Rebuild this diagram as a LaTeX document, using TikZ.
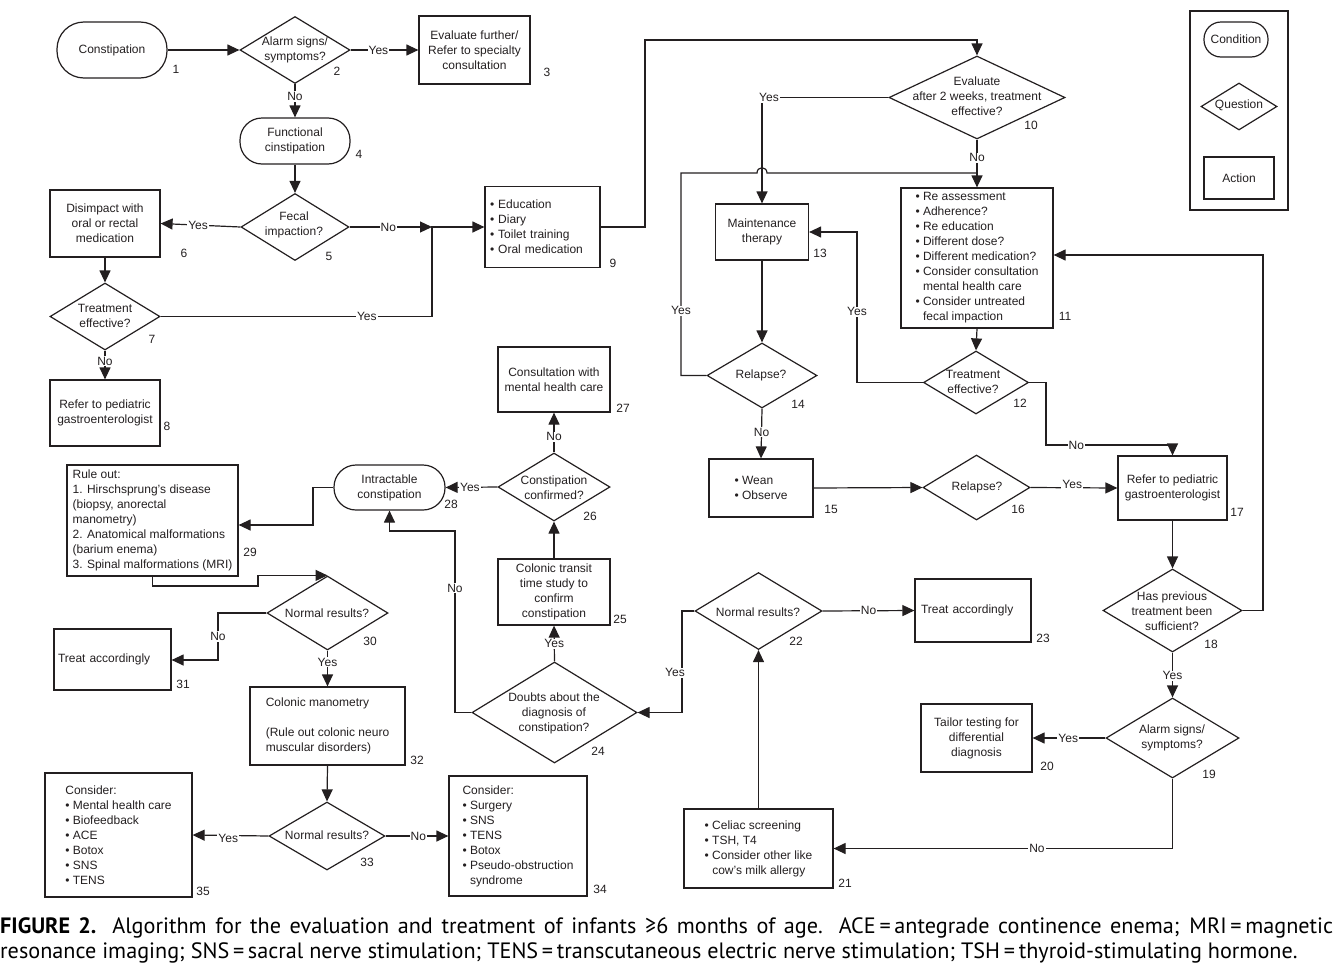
\documentclass[tikz,border=0pt]{standalone}
\usepackage{fontspec}
\setmainfont{Liberation Sans}
\newfontfamily\capfont{PT Sans}
\usetikzlibrary{arrows.meta,shapes.geometric}
\definecolor{ink}{HTML}{231F20}
\newcommand\dfont{\fontsize{12}{15}\selectfont}
\newcommand\capsize{\fontsize{22.2}{26}\selectfont}
\tikzset{
  ln/.style={draw=ink, line width=1.2pt},
  arr/.style={ln, -{Triangle[length=12pt,width=11pt]}},
  box/.style={draw=ink, line width=1.2pt, rectangle, inner sep=0pt, font=\dfont, text=ink, align=center},
  cond/.style={box, rounded corners=#1},
  qd/.style={draw=ink, line width=1.2pt, diamond, inner sep=0pt},
  qt/.style={font=\dfont, text=ink, align=center, inner sep=0pt},
  lbl/.style={fill=white, inner sep=1pt, font=\dfont, text=ink},
  num/.style={font=\dfont, text=ink, inner sep=0pt},
}
\begin{document}
\begin{tikzpicture}[x=1pt,y=-1pt]
\useasboundingbox (0,0) rectangle (1339,964);

% ---------- nodes ----------
\node[cond=27pt, minimum width=110pt, minimum height=56pt] (c1) at (112,50) {Constipation};
\node[qd, minimum width=110pt, minimum height=67pt] (q2) at (295,50) {};
\node[qt] (q2t) at (295,50) {Alarm signs/\\symptoms?};
\node[box, minimum width=111pt, minimum height=68pt] (r3) at (474.5,50) {Evaluate further/\\Refer to specialty\\consultation};
\node[cond=22pt, minimum width=110pt, minimum height=46pt] (c4) at (295,141) {Functional\\cinstipation};
\node[qd, minimum width=108pt, minimum height=67pt] (q5) at (295,227) {};
\node[qt] (q5t) at (294,225) {Fecal\\impaction?};
\node[box, minimum width=110pt, minimum height=67pt] (r6) at (105,223.5) {Disimpact with\\oral or rectal\\medication};
\node[qd, minimum width=110pt, minimum height=67pt] (q7) at (105,316.5) {};
\node[qt] (q7t) at (105,316) {Treatment\\effective?};
\node[box, minimum width=110pt, minimum height=66pt] (r8) at (105,413) {Refer to pediatric\\gastroenterologist};
\node[box, align=left, text width=105pt, inner xsep=5pt, minimum height=81pt] (r9) at (542.5,227) {• Education\\• Diary\\• Toilet training\\• Oral medication};
\node[qd, minimum width=176pt, minimum height=83pt] (q10) at (977,97.5) {};
\node[qt] (q10t) at (977,96) {Evaluate\\after 2 weeks, treatment\\effective?};
\node[box, align=left, minimum width=152pt, minimum height=140pt] (r11) at (977,258) {• Re assessment\\• Adherence?\\• Re education\\• Different dose?\\• Different medication?\\• Consider consultation\\\hphantom{• }mental health care\\• Consider untreated\\\hphantom{• }fecal impaction};
\node[qd, minimum width=105pt, minimum height=63pt] (q12) at (976,382.5) {};
\node[qt] (q12t) at (973,381.5) {Treatment\\effective?};
\node[box, minimum width=93pt, minimum height=56pt] (r13) at (762,232) {Maintenance\\therapy};
\node[qd, minimum width=110pt, minimum height=65pt] (q14) at (762,375.5) {};
\node[qt] (q14t) at (761,375) {Relapse?};
\node[box, align=left, minimum width=104pt, minimum height=58pt] (r15) at (761,488) {• Wean\\• Observe};
\node[qd, minimum width=107pt, minimum height=65pt] (q16) at (976.5,487.5) {};
\node[qt] (q16t) at (977,487) {Relapse?};
\node[box, minimum width=109pt, minimum height=64pt] (r17) at (1172.5,488) {Refer to pediatric\\gastroenterologist};
\node[qd, minimum width=139pt, minimum height=83pt] (q18) at (1172.5,610.5) {};
\node[qt] (q18t) at (1172,611) {Has previous\\treatment been\\sufficient?};
\node[qd, minimum width=133pt, minimum height=80pt] (q19) at (1172.5,738) {};
\node[qt] (q19t) at (1172,737.5) {Alarm signs/\\symptoms?};
\node[box, minimum width=111pt, minimum height=68pt] (r20) at (976.5,738) {Tailor testing for\\differential\\diagnosis};
\node[box, align=left, minimum width=149pt, minimum height=79pt] (r21) at (758.5,848.5) {• Celiac screening\\• TSH, T4\\• Consider other like\\\hphantom{• }cow’s milk allergy};
\node[qd, minimum width=127pt, minimum height=77pt] (q22) at (758.5,611) {};
\node[qt] (q22t) at (758,612) {Normal results?};
\node[box, align=left, text width=104pt, inner xsep=6pt, minimum height=63pt] (r23) at (973,610.5) {Treat accordingly};
\node[qd, minimum width=165pt, minimum height=101pt] (q24) at (554.5,712.5) {};
\node[qt] (q24t) at (554,713) {Doubts about the\\diagnosis of\\constipation?};
\node[box, minimum width=112pt, minimum height=66pt] (r25) at (554,592) {Colonic transit\\time study to\\confirm\\constipation};
\node[qd, minimum width=112pt, minimum height=68pt] (q26) at (554,487) {};
\node[qt] (q26t) at (554,487.5) {Constipation\\confirmed?};
\node[box, minimum width=112pt, minimum height=65pt] (r27) at (554,379.5) {Consultation with\\mental health care};
\node[cond=22pt, minimum width=111pt, minimum height=45pt] (c28) at (389.5,487.5) {Intractable\\constipation};
\node[box, align=left, minimum width=171pt, minimum height=111pt] (r29) at (152.5,520.5) {Rule out:\\1. Hirschsprung’s disease\\(biopsy, anorectal\\manometry)\\2. Anatomical malformations\\(barium enema)\\3. Spinal malformations (MRI)};
\node[qd, minimum width=121pt, minimum height=74pt] (q30) at (327.5,613) {};
\node[qt] (q30t) at (327,613) {Normal results?};
\node[box, align=left, text width=109pt, inner xsep=4pt, minimum height=61pt] (r31) at (112.5,659.5) {Treat accordingly};
\node[box, align=left, minimum width=155pt, minimum height=78pt] (r32) at (327.5,726) {Colonic manometry\\[15pt](Rule out colonic neuro\\muscular disorders)};
\node[qd, minimum width=116pt, minimum height=68pt] (q33) at (327,836) {};
\node[qt] (q33t) at (327,835) {Normal results?};
\node[box, align=left, minimum width=138pt, minimum height=120pt] (r34) at (518,836) {Consider:\\• Surgery\\• SNS\\• TENS\\• Botox\\• Pseudo-obstruction\\\hphantom{• }syndrome};
\node[box, align=left, minimum width=147pt, minimum height=124pt] (r35) at (118.5,835) {Consider:\\• Mental health care\\• Biofeedback\\• ACE\\• Botox\\• SNS\\• TENS};

% legend
\node[box, minimum width=98pt, minimum height=199pt] (leg) at (1239,110.5) {};
\node[cond=17pt, minimum width=64pt, minimum height=35pt] (lc) at (1236,39.5) {Condition};
\node[qd, minimum width=76pt, minimum height=47pt] (lq) at (1239,106.5) {};
\node[qt] (lqt) at (1239,105) {Question};
\node[box, minimum width=70pt, minimum height=42pt] (la) at (1239,178) {Action};

% ---------- numbers ----------
\node[num] (n1) at (176,69) {1};
\node[num] (n2) at (337,71) {2};
\node[num] (n3) at (547,72) {3};
\node[num] (n4) at (359,154) {4};
\node[num] (n5) at (329,256) {5};
\node[num] (n6) at (184,253) {6};
\node[num] (n7) at (152,339) {7};
\node[num] (n8) at (167,426) {8};
\node[num] (n9) at (613,263) {9};
\node[num] (n10) at (1031,125) {10};
\node[num] (n11) at (1065,316) {11};
\node[num] (n12) at (1020,403) {12};
\node[num] (n13) at (820,253) {13};
\node[num] (n14) at (798,404) {14};
\node[num] (n15) at (831,509) {15};
\node[num] (n16) at (1018,509) {16};
\node[num] (n17) at (1237,512) {17};
\node[num] (n18) at (1211,644) {18};
\node[num] (n19) at (1209,774) {19};
\node[num] (n20) at (1047,766) {20};
\node[num] (n21) at (845,883) {21};
\node[num] (n22) at (796,641) {22};
\node[num] (n23) at (1043,638) {23};
\node[num] (n24) at (598,751) {24};
\node[num] (n25) at (620,619) {25};
\node[num] (n26) at (590,516) {26};
\node[num] (n27) at (623,408) {27};
\node[num] (n28) at (451,504) {28};
\node[num] (n29) at (250,552) {29};
\node[num] (n30) at (370,641) {30};
\node[num] (n31) at (183,684) {31};
\node[num] (n32) at (417,760) {32};
\node[num] (n33) at (367,862) {33};
\node[num] (n34) at (600,889) {34};
\node[num] (n35) at (203,891) {35};

% ---------- junction coordinates ----------
\coordinate (j9) at (432,227);
\coordinate (j10) at (645,40);
\coordinate (j11) at (977,173);
\coordinate (j14) at (681,173);
\coordinate (h1) at (757,173);
\coordinate (h2) at (767,173);
\coordinate (j12) at (857,232);
\coordinate (j12b) at (1046,445);
\coordinate (j18) at (1263,255);
\coordinate (j22) at (682,611);
\coordinate (j24) at (455,531);
\coordinate (j28) at (313,525);
\coordinate (j29) at (258,586);
\coordinate (j30) at (218,660);

% ---------- connectors ----------
\draw[arr] (c1.east) -- (q2.west);
\draw[arr] (q2.east) -- node[lbl,pos=0.41]{Yes} (r3.west);
\draw[arr] (q2.south) -- node[lbl,pos=0.37]{No} (c4.north);
\draw[arr] (c4.south) -- (q5.north);
\draw[arr] (q5.west) -- node[lbl,pos=0.53]{Yes} (r6.east);
\draw[arr] (q5.east) -- node[lbl,pos=0.47]{No} (j9);
\draw[arr] (r6.south) -- (q7.north);
\draw[arr] (q7.south) -- node[lbl,pos=0.37]{No} (r8.north);
\draw[arr] (q7.east) -| node[lbl,pos=0.38]{Yes} (j9) -- (r9.west);
\draw[arr] (r9.east) -| (j10) -| (q10.north);
\draw[arr] (q10.west) -| node[lbl,pos=0.5,xshift=7pt]{Yes} (r13.north);
\draw[arr] (q10.south) -- node[lbl,pos=0.38]{No} (r11.north);
\draw[ln] (q14.west) -| node[lbl,pos=0.66]{Yes} (j14) -- (h1) .. controls (757,166) and (767,166) .. (h2) -- (j11);
\draw[arr] (r11.south) -- (q12.north);
\draw[arr] (q12.west) -| node[lbl,pos=0.735]{Yes} (j12) -- (r13.east);
\draw[arr] (q12.east) -| (j12b) -| node[lbl,pos=0.12]{No} (r17.north);
\draw[arr] (r13.south) -- (q14.north);
\draw[arr] (q14.south) -- node[lbl,pos=0.47]{No} (r15.north);
\draw[arr] (r15.east) -- (q16.west);
\draw[arr] (q16.east) -- node[lbl,pos=0.48,yshift=3pt]{Yes} (r17.west);
\draw[arr] (r17.south) -- (q18.north);
\draw[arr] (q18.east) -| (j18) -- (j18 -| r11.east);
\draw[arr] (q18.south) -- node[lbl,pos=0.52]{Yes} (q19.north);
\draw[arr] (q19.west) -- node[lbl,pos=0.51]{Yes} (r20.east);
\draw[arr] (q19.south) |- node[lbl,pos=0.7]{No} (r21.east);
\draw[arr] (r21.north) -- (q22.south);
\draw[arr] (q22.east) -- node[lbl,pos=0.5]{No} (r23.west);
\draw[arr] (q22.west) -- (j22) |- node[lbl,pos=0.305,xshift=-7pt]{Yes} (q24.east);
\draw[arr] (q24.north) -- node[lbl,pos=0.49]{Yes} (r25.south);
\draw[arr] (r25.north) -- (q26.south);
\draw[arr] (q26.north) -- node[lbl,pos=0.39]{No} (r27.south);
\draw[arr] (q26.west) -- node[lbl,pos=0.53]{Yes} (c28.east);
\draw[arr] (q24.west) -| node[lbl,pos=0.843]{No} (j24) -| (c28.south);
\draw[arr] (c28.west) -| (j28) -- (j28 -| r29.east);
\draw[arr] (r29.south) |- (j29) |- (q30.north);
\draw[arr] (q30.west) -| node[lbl,pos=0.75]{No} (j30) -- (j30 -| r31.east);
\draw[arr] (q30.south) -- node[lbl,pos=0.32]{Yes} (r32.north);
\draw[arr] (r32.south) -- (q33.north);
\draw[arr] (q33.west) -- node[lbl,pos=0.53,yshift=-3pt]{Yes} (r35.east);
\draw[arr] (q33.east) -- node[lbl,pos=0.52]{No} (r34.west);

% ---------- caption ----------
\node[anchor=base west, inner sep=0pt] (cap1) at (0,933) {\capfont\capsize\makebox[1333pt][s]{\textbf{FIGURE 2.} Algorithm for the evaluation and treatment of infants ≥6 months of age. ACE\,=\,antegrade continence enema; MRI\,=\,magnetic}};
\node[anchor=base west, inner sep=0pt] (cap2) at (0,958) {\capfont\capsize resonance imaging; SNS\,=\,sacral nerve stimulation; TENS\,=\,transcutaneous electric nerve stimulation; TSH\,=\,thyroid-stimulating hormone.};
\end{tikzpicture}
\end{document}
